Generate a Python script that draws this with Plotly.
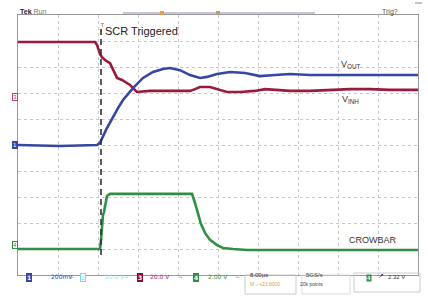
import plotly.graph_objects as go

# time in microseconds (8 us/div), amplitude in screen divisions
t_vinh = [0, 15.4, 15.8, 16.4, 16.8, 17.4, 18.4, 19.0, 19.8, 20.8, 21.8, 22.4, 23.0, 23.8, 26.4, 30.4, 34.4, 35.4,
          36.4, 38.4, 40, 41.8, 44.4, 47.4, 49.4, 51.4, 54.4, 58.4, 62.4, 66.4, 70.4, 74.4, 80]
v_vinh = [8.96, 8.96, 8.85, 8.5, 8.38, 8.27, 8.15, 7.88, 7.58, 7.5, 7.38, 7.31, 7.19, 7.04, 7.08, 7.08, 7.08, 7.15,
          7.23, 7.23, 7.15, 7.04, 7.04, 7.08, 7.15, 7.12, 7.08, 7.08, 7.12, 7.15, 7.15, 7.12, 7.12]

t_vout = [0, 8.4, 15.8, 16.4, 17.6, 19.0, 20.0, 21.0, 22.0, 23.0, 25.0, 27.0, 29.0, 30.4, 32.4, 34.4, 36.4, 37.8,
          39.8, 42.4, 45.4, 48.4, 51.4, 54.4, 58.4, 64.4, 70.4, 76.4, 80]
v_vout = [5.0, 4.96, 5.0, 5.08, 5.58, 6.08, 6.42, 6.73, 6.96, 7.19, 7.58, 7.81, 7.92, 7.96, 7.88, 7.69, 7.58, 7.62,
          7.73, 7.81, 7.77, 7.65, 7.69, 7.73, 7.69, 7.69, 7.69, 7.69, 7.69]

t_crow = [0, 8.4, 16.4, 16.6, 16.8, 17.0, 17.2, 17.4, 17.8, 18.4, 26.4, 34.8, 35.4, 36.0, 36.6, 37.4, 38.4, 39.8,
          41.0, 43.0, 45.8, 56.4, 68.4, 80]
v_crow = [1.0, 1.0, 1.0, 1.35, 1.81, 2.31, 2.42, 2.69, 3.04, 3.12, 3.12, 3.12, 2.77, 2.35, 1.96, 1.62, 1.35, 1.15,
          1.04, 1.0, 0.96, 0.96, 0.96, 0.96]

trigger_t = [16.6]
trigger_span = [0.77, 9.5]

labels = ["SCR Triggered", "V<sub>OUT</sub>", "V<sub>INH</sub>", "CROWBAR"]

BLUE = "#3646a3"
RED = "#9a1a3c"
GREEN = "#2f8f45"

fig = go.Figure()
fig.add_trace(go.Scatter(x=t_vinh, y=v_vinh, mode="lines", line=dict(color=RED, width=2.6), hoverinfo="skip"))
fig.add_trace(go.Scatter(x=t_vout, y=v_vout, mode="lines", line=dict(color=BLUE, width=2.6), hoverinfo="skip"))
fig.add_trace(go.Scatter(x=t_crow, y=v_crow, mode="lines", line=dict(color=GREEN, width=2.6), hoverinfo="skip"))
fig.add_trace(go.Scatter(x=[trigger_t[0], trigger_t[0]], y=trigger_span, mode="lines",
                         line=dict(color="#333333", width=1.6, dash="6px,4px"), hoverinfo="skip"))

L, R, T, B = 18, 10, 15, 25
W, H = 428, 300
pw, ph = W - L - R, H - T - B


def px(x):
    return (x - L) / pw


def py(y):
    return (H - B - y) / ph


ann = []
ann.append(dict(x=17.0, y=9.38, xref="x", yref="y", text=labels[0], showarrow=False, xanchor="left",
                font=dict(family="Arial", size=11, color="#222")))
ann.append(dict(x=66.4, y=8.1, xref="x", yref="y", text=labels[1], showarrow=False,
                font=dict(family="Arial", size=9, color="#333")))
ann.append(dict(x=66.4, y=6.75, xref="x", yref="y", text=labels[2], showarrow=False,
                font=dict(family="Arial", size=9, color="#333")))
ann.append(dict(x=71.0, y=1.35, xref="x", yref="y", text=labels[3], showarrow=False,
                font=dict(family="Arial", size=9, color="#333")))

# top header
ann.append(dict(x=px(18), y=py(6), xref="paper", yref="paper", text="<b>Tek</b> <span style='color:#777'>Run</span>",
                showarrow=False, xanchor="left", font=dict(family="Arial", size=7, color="#222")))
ann.append(dict(x=px(380), y=py(6), xref="paper", yref="paper", text="Trig?", showarrow=False, xanchor="left",
                font=dict(family="Arial", size=7, color="#555")))
ann.append(dict(x=px(99), y=py(20), xref="paper", yref="paper", text="<b>T</b>", showarrow=False,
                font=dict(family="Arial", size=5, color="#d08a10")))

# channel ground markers
for yy, txt, col, fill in [(145, "1", BLUE, "#3646a3"), (93, "3", "#c0407a", "white"), (249, "4", GREEN, "white")]:
    ann.append(dict(x=px(12), y=py(yy), xref="paper", yref="paper", text=txt, showarrow=False,
                    font=dict(family="Arial", size=6, color=col if fill == "white" else "white"),
                    bordercolor=col, borderwidth=1, bgcolor=fill, borderpad=0))

# bottom status bar
sb = py(282)
items = [
    (26, "<b>1</b>", "white", BLUE),
    (49, "200mV", BLUE, None),
    (67, "~", "#888", None),
    (80, "2", "#7fd8e8", "white"),
    (103, "20.0 V", "#9fe0ea", None),
    (122, "~", "#aaa", None),
    (137, "<b>3</b>", "white", "#8a1030"),
    (160, "20.0 V", "#a0307a", None),
    (180, "~", "#888", None),
    (196, "<b>4</b>", "white", "#2f8f45"),
    (218, "2.00 V", GREEN, None),
    (237, "~", "#888", None),
]
for x, txt, col, bg in items:
    d = dict(x=px(x), y=sb, xref="paper", yref="paper", text=txt, showarrow=False,
             font=dict(family="DejaVu Sans", size=6, color=col))
    if bg:
        d.update(bgcolor=bg, bordercolor=bg if bg != "white" else col, borderwidth=1, borderpad=0)
    ann.append(d)
ann.append(dict(x=px(248), y=py(280), xref="paper", yref="paper", text="8.00µs", showarrow=False, xanchor="left",
                font=dict(family="Arial", size=6, color="#333")))
ann.append(dict(x=px(248), y=py(289), xref="paper", yref="paper", text="M→+23.6000", showarrow=False,
                xanchor="left", font=dict(family="Arial", size=5, color="#e0a040")))
ann.append(dict(x=px(325), y=py(280), xref="paper", yref="paper", text="5GS/s", showarrow=False,
                font=dict(family="Arial", size=6, color="#444")))
ann.append(dict(x=px(325), y=py(289), xref="paper", yref="paper", text="20k points", showarrow=False,
                font=dict(family="Arial", size=5, color="#444")))
ann.append(dict(x=px(372), y=sb, xref="paper", yref="paper", text="<b>4</b>", showarrow=False,
                font=dict(family="Arial", size=6, color="white"), bgcolor=GREEN, borderpad=0))
ann.append(dict(x=px(386), y=sb, xref="paper", yref="paper", text="↗", showarrow=False,
                font=dict(family="DejaVu Sans", size=7, color="#333")))
ann.append(dict(x=px(407), y=sb, xref="paper", yref="paper", text="2.32 V", showarrow=False,
                font=dict(family="Arial", size=6, color="#333")))

shapes = [
    # trigger position bar at top
    dict(type="line", xref="paper", yref="paper", x0=px(123), x1=px(315), y0=py(13), y1=py(13),
         line=dict(color="#c8c4e0", width=2)),
    dict(type="rect", xref="paper", yref="paper", x0=px(160), x1=px(164), y0=py(11), y1=py(15),
         fillcolor="#e0a040", line=dict(width=0)),
    dict(type="rect", xref="paper", yref="paper", x0=px(216), x1=px(220), y0=py(11), y1=py(15),
         fillcolor="#b0a080", line=dict(width=0)),
    dict(type="line", xref="paper", yref="paper", x0=px(415), x1=px(422), y0=py(3), y1=py(3),
         line=dict(color="#888", width=1)),
    # status boxes
    dict(type="rect", xref="paper", yref="paper", x0=px(245), x1=px(296), y0=py(275), y1=py(294),
         line=dict(color="#ccc", width=1)),
    dict(type="rect", xref="paper", yref="paper", x0=px(302), x1=px(350), y0=py(275), y1=py(294),
         line=dict(color="#ddd", width=1)),
    dict(type="rect", xref="paper", yref="paper", x0=px(354), x1=px(420), y0=py(273), y1=py(292),
         line=dict(color="#ccc", width=1)),
]

fig.update_layout(
    width=W, height=H, margin=dict(l=L, r=R, t=T, b=B),
    paper_bgcolor="white", plot_bgcolor="white", showlegend=False,
    annotations=ann, shapes=shapes,
    xaxis=dict(range=[0, 80], dtick=8, showgrid=True, gridcolor="#c8c8c8", griddash="dot", gridwidth=1,
               showticklabels=False, ticks="", zeroline=False, showline=True, linecolor="#999", mirror=True,
               fixedrange=True),
    yaxis=dict(range=[0, 10], dtick=1, showgrid=True, gridcolor="#c8c8c8", griddash="dot", gridwidth=1,
               showticklabels=False, ticks="", zeroline=False, showline=True, linecolor="#999", mirror=True,
               fixedrange=True),
)
fig.write_html("out.html")
